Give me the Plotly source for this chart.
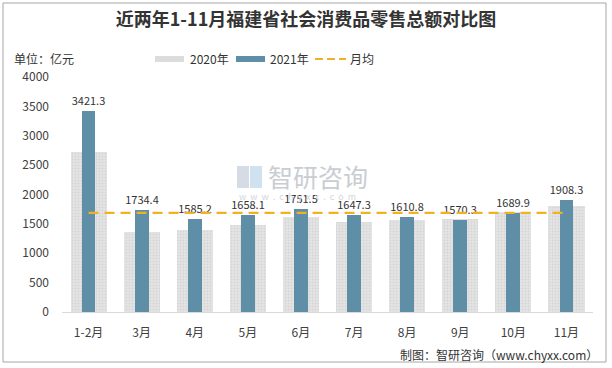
import plotly.graph_objects as go

categories = ["1-2月", "3月", "4月", "5月", "6月", "7月", "8月", "9月", "10月", "11月"]
values_2020 = [2725, 1362, 1396, 1481, 1611, 1532, 1566, 1583, 1702, 1804]
values_2021 = [3421.3, 1734.4, 1585.2, 1658.1, 1751.5, 1647.3, 1610.8, 1570.3, 1689.9, 1908.3]
monthly_avg = [1688.8] * len(categories)
y_ticks = [0, 500, 1000, 1500, 2000, 2500, 3000, 3500, 4000]

FONT = "Noto Sans CJK SC"
L, R, T, B = 62, 593, 77, 312
PW, PH = R - L, B - T


def px(x):
    return (x - L) / PW


def py(y):
    return (B - y) / PH


fig = go.Figure()

fig.add_trace(go.Bar(
    x=categories, y=values_2020, name="2020年", width=0.68,
    marker=dict(color="#DCDCDC", line=dict(width=0),
                pattern=dict(shape=".", fgcolor="#C4C4C4", bgcolor="#E4E4E4", size=3, solidity=0.3)),
))
fig.add_trace(go.Bar(
    x=categories, y=values_2021, name="2021年", width=0.26,
    marker=dict(color="#5E8FA6", line=dict(width=0)),
    text=[f"{v:.1f}" for v in values_2021], textposition="outside", constraintext="none",
    textfont=dict(size=11, color="#333333", family=FONT), cliponaxis=False,
))
fig.add_trace(go.Scatter(
    x=categories, y=monthly_avg, name="月均", mode="lines",
    line=dict(color="#F2B124", width=2.2, dash="10px,6px"),
))

shapes = [
    dict(type="rect", xref="paper", yref="paper", x0=px(3), x1=px(606), y0=py(362), y1=py(3),
         line=dict(color="#A6A6A6", width=1), fillcolor="rgba(0,0,0,0)"),
    dict(type="rect", xref="paper", yref="paper", x0=px(155), x1=px(184), y0=py(62), y1=py(56),
         line=dict(width=0), fillcolor="#DCDCDC"),
    dict(type="rect", xref="paper", yref="paper", x0=px(236), x1=px(265), y0=py(62), y1=py(56),
         line=dict(width=0), fillcolor="#5E8FA6"),
    dict(type="line", xref="paper", yref="paper", x0=px(315), x1=px(346), y0=py(59), y1=py(59),
         line=dict(color="#F2B124", width=2.2, dash="8px,4px")),
    # watermark logo blocks
    dict(type="rect", xref="paper", yref="paper", x0=px(237), x1=px(249), y0=py(188), y1=py(166),
         line=dict(width=0), fillcolor="#D5DCE6"),
    dict(type="rect", xref="paper", yref="paper", x0=px(250), x1=px(262), y0=py(188), y1=py(166),
         line=dict(width=0), fillcolor="#D0E2F0"),
]

annotations = [
    dict(text="2020年", x=px(188), y=py(59)),
    dict(text="2021年", x=px(268), y=py(59)),
    dict(text="月均", x=px(348), y=py(59)),
    dict(text="单位：亿元", x=px(12), y=py(59)),
]
for a in annotations:
    a.update(xref="paper", yref="paper", xanchor="left", yanchor="middle", showarrow=False,
             font=dict(size=12, color="#333333"))
annotations += [
    dict(text="制图：智研咨询（www.chyxx.com）", xref="paper", yref="paper", x=px(600), y=py(354),
         xanchor="right", yanchor="middle", showarrow=False, font=dict(size=12, color="#333333")),
    dict(text="智研咨询", xref="paper", yref="paper", x=px(266), y=py(176),
         xanchor="left", yanchor="middle", showarrow=False, font=dict(size=25, color="#C9CDD2")),
    dict(text="w  w  w  .  c  h  y  x  x  .  c  o  m", xref="paper", yref="paper", x=px(237), y=py(196),
         xanchor="left", yanchor="middle", showarrow=False, font=dict(size=9, color="#D3D6DA")),
]

fig.update_layout(
    width=612, height=368,
    margin=dict(l=L, r=612 - R, t=T, b=368 - B, autoexpand=False),
    paper_bgcolor="white", plot_bgcolor="white",
    barmode="overlay", bargap=0,
    font=dict(family=FONT, size=12, color="#404040"),
    showlegend=False,
    title=dict(text="<b>近两年1-11月福建省社会消费品零售总额对比图</b>", x=0.5, xanchor="center",
               y=(368 - 20) / 368, yanchor="middle", font=dict(size=18, color="#333333", family=FONT)),
    xaxis=dict(showline=True, linecolor="#D9D9D9", linewidth=1, ticks="", showgrid=False,
               ticklabelstandoff=10, tickfont=dict(size=12, color="#404040")),
    yaxis=dict(range=[0, 4000], tickvals=y_ticks, showgrid=False, zeroline=False, showline=False,
               ticks="", ticklabelstandoff=12, tickfont=dict(size=12, color="#404040")),
    shapes=shapes,
    annotations=annotations,
)

fig.write_html("out.html", config={"displayModeBar": False},
               post_script="document.body.style.margin='0';document.body.style.padding='0';")
